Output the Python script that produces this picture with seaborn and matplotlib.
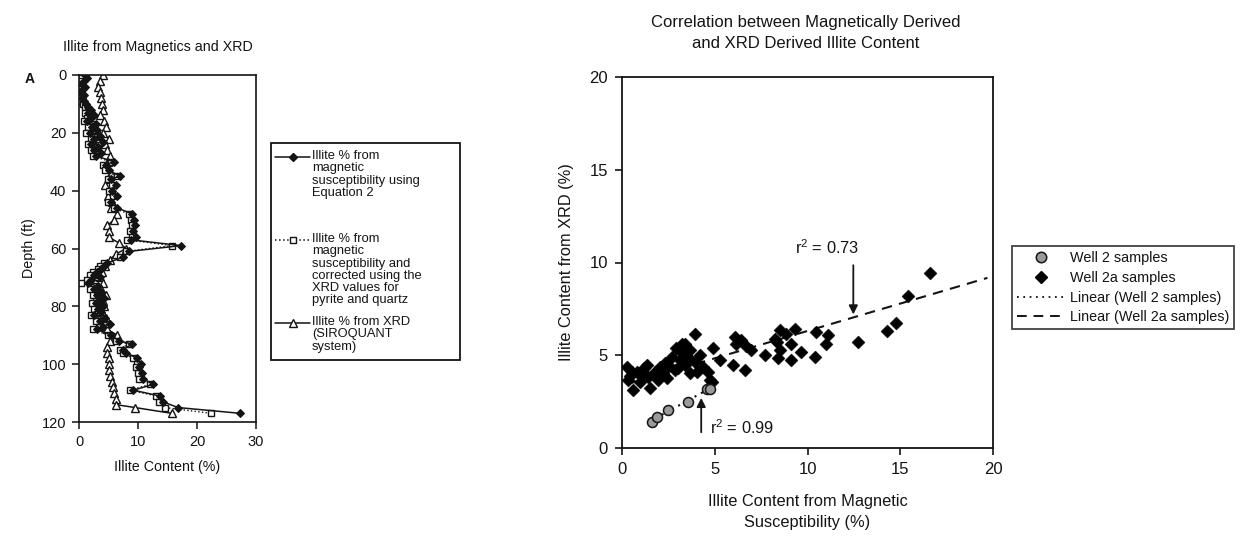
import numpy as np
import pandas as pd
import matplotlib
matplotlib.use("Agg")
import matplotlib.pyplot as plt
import seaborn as sns
from matplotlib.lines import Line2D
from matplotlib.patches import Rectangle

# ---------------- data: left panel (depth profiles) ----------------
depth_mag = [0, 1, 2, 3, 4, 5, 6, 7, 8, 9, 10, 11, 12, 13, 14, 15, 16, 17, 18, 19, 20,
             21, 22, 23, 24, 25, 26, 27, 28, 30, 31, 33, 35, 36, 38, 40, 42, 44, 46, 48,
             50, 52, 54, 56, 57, 59, 61, 63, 65, 66, 67, 68, 69, 70, 71, 72, 73, 74, 75,
             76, 77, 78, 79, 80, 81, 82, 83, 84, 85, 86, 87, 88, 90, 92, 93, 95, 96, 98,
             100, 101, 103, 105, 107, 109, 111, 113, 115, 117]
illite_eq2 = [1.0, 1.4, 0.8, 0.5, 1.1, 0.6, 0.4, 0.9, 0.5, 0.8, 1.2, 1.6, 2.0, 1.5, 2.5, 2.0,
              1.4, 2.8, 2.2, 3.0, 1.8, 3.5, 2.6, 4.0, 2.1, 3.2, 2.6, 3.8, 2.8, 6.0, 4.5, 5.0,
              7.0, 5.5, 6.2, 5.6, 6.4, 5.5, 6.5, 9.0, 9.3, 9.5, 9.2, 9.6, 8.8, 17.3, 8.5, 7.5,
              4.8, 4.2, 3.8, 3.0, 2.5, 3.5, 2.0, 1.5, 3.2, 2.5, 3.8, 3.0, 4.2, 3.5, 2.8, 4.0,
              3.2, 3.8, 2.6, 4.4, 3.5, 5.2, 4.0, 3.0, 5.5, 6.8, 9.0, 7.5, 8.0, 9.8, 10.5, 10.2,
              10.6, 10.8, 12.6, 9.2, 13.7, 14.2, 16.8, 27.3]
illite_corr = [0.6, 0.3, 0.2, 0.0, 0.5, 0.1, 0.0, 0.4, 0.1, 0.3, 0.7, 1.1, 1.5, 1.0, 2.0, 1.4,
               0.9, 2.3, 1.6, 2.5, 1.2, 3.0, 2.0, 3.4, 1.5, 2.7, 2.0, 3.2, 2.3, 5.4, 4.0, 4.4,
               6.4, 4.9, 5.6, 5.0, 5.8, 4.9, 5.9, 8.4, 8.8, 8.9, 8.6, 9.0, 8.2, 15.8, 8.0, 6.9,
               4.2, 3.6, 3.2, 2.4, 1.9, 2.9, 1.4, 0.3, 2.6, 1.9, 3.2, 2.4, 3.6, 2.9, 2.2, 3.4,
               2.6, 3.2, 2.0, 3.8, 2.9, 4.6, 3.4, 2.4, 4.9, 6.2, 8.4, 6.9, 7.4, 9.2, 9.9, 9.6,
               10.0, 10.2, 12.0, 8.6, 13.1, 13.6, 14.5, 22.4]
depth_xrd = [0, 2, 4, 6, 8, 10, 12, 14, 16, 18, 20, 22, 24, 26, 28, 30, 32, 34, 36, 38, 40,
             42, 44, 46, 48, 50, 52, 54, 56, 58, 60, 62, 64, 66, 68, 70, 72, 74, 76, 78, 80,
             82, 84, 86, 88, 90, 92, 94, 96, 98, 100, 102, 104, 106, 108, 110, 112, 114, 115, 117]
illite_xrd = [4.1, 3.6, 3.2, 3.5, 3.8, 3.9, 4.0, 3.6, 4.3, 4.6, 4.0, 5.0, 4.4, 4.8, 5.3, 4.9,
              4.6, 5.4, 5.0, 4.4, 5.2, 4.9, 5.6, 5.4, 6.4, 6.0, 4.8, 5.1, 5.0, 6.7, 8.0, 6.2,
              5.2, 4.4, 3.9, 3.6, 4.1, 3.8, 4.5, 4.0, 4.3, 3.9, 4.6, 4.2, 4.8, 6.5, 5.2, 4.7,
              4.8, 5.0, 5.1, 5.0, 5.3, 5.6, 5.7, 6.0, 6.2, 6.3, 9.5, 15.7]

left_labels = ["Illite % from\nmagnetic\nsusceptibility using\nEquation 2",
               "Illite % from\nmagnetic\nsusceptibility and\ncorrected using the\nXRD values for\npyrite and quartz",
               "Illite % from XRD\n(SIROQUANT\nsystem)"]

# ---------------- data: right panel (cross-plot) ----------------
well2_mag = [1.6, 1.87, 2.5, 3.57, 4.56, 4.74]
well2_xrd = [1.42, 1.69, 2.04, 2.5, 3.2, 3.16]
well2a_mag = [0.28, 0.32, 0.61, 0.79, 1.06, 1.33, 1.51, 1.78, 1.96, 2.22, 2.49, 2.67, 2.85,
              3.12, 3.21, 3.39, 3.57, 3.66, 3.93, 4.02, 4.2, 4.38, 4.65, 4.74, 3.39, 3.66,
              0.97, 0.52, 1.42, 2.4, 3.03, 2.04, 4.83, 0.45, 1.2, 2.3, 2.9, 3.14,
              3.93, 3.21, 4.92, 6.08, 6.17, 6.98, 5.99, 6.62, 5.27, 7.7, 8.23, 8.86, 9.31,
              9.13, 8.5, 8.41, 9.13, 9.67, 10.39, 10.48, 11.1, 11.02, 6.4, 6.7, 8.52, 8.34,
              12.74, 14.26, 14.76, 15.4, 16.6]
well2a_xrd = [4.38, 3.66, 3.12, 4.11, 3.93, 4.47, 3.21, 4.11, 3.66, 4.02, 4.47, 4.91, 4.2,
              4.74, 5.1, 4.47, 4.91, 4.02, 4.65, 4.11, 5.0, 4.38, 4.11, 3.66, 5.63, 5.27,
              3.57, 4.11, 3.84, 3.75, 4.29, 4.38, 3.57, 3.9, 4.3, 4.6, 5.4, 5.47,
              6.17, 5.63, 5.4, 5.99, 5.63, 5.27, 4.47, 4.2, 4.74, 5.0, 5.9, 6.17, 6.44,
              5.63, 5.27, 4.83, 4.74, 5.18, 4.91, 6.26, 6.08, 5.63, 5.8, 5.5, 6.37, 5.74,
              5.74, 6.33, 6.73, 8.2, 9.42]
well2a_fit = (0.295, 3.36)
well2a_fit_range = (0.28, 19.7)  # x extent of the Well 2a trendline
r2_labels = ["r$^{2}$ = 0.73", "r$^{2}$ = 0.99"]
right_legend = ["Well 2 samples", "Well 2a samples", "Linear (Well 2 samples)",
                "Linear (Well 2a samples)"]

# ---------------- styling ----------------
sns.set_theme(style="ticks")
plt.rcParams["font.family"] = ["Liberation Sans", "DejaVu Sans"]
plt.rcParams["mathtext.fontset"] = "custom"
plt.rcParams["mathtext.rm"] = "Liberation Sans"
plt.rcParams["mathtext.it"] = "Liberation Sans"
ink = "#141414"
plt.rcParams.update({"axes.edgecolor": ink, "xtick.color": ink, "ytick.color": ink,
                     "text.color": ink, "axes.labelcolor": ink})

W, H = 1242, 547
fig = plt.figure(figsize=(W / 100, H / 100), dpi=100, facecolor="white")

def fx(px):
    return px / W

def fy(py):
    return 1 - py / H

# ---------------- left panel ----------------
axL = fig.add_axes([fx(79), fy(422), fx(256) - fx(79), fy(75) - fy(422)])
dfx = pd.DataFrame({"v": illite_xrd, "d": depth_xrd})
dfm = pd.DataFrame({"eq2": illite_eq2, "corr": illite_corr, "d": depth_mag})
sns.lineplot(data=dfx, x="v", y="d", sort=False, estimator=None, orient="y", ax=axL,
             color=ink, lw=1.1, marker="^", markersize=5.5, markerfacecolor="white",
             markeredgecolor=ink, markeredgewidth=1.0, legend=False)
sns.lineplot(data=dfm, x="corr", y="d", sort=False, estimator=None, orient="y", ax=axL,
             color=ink, lw=1.0, linestyle=":", marker="s", markersize=4.3,
             markerfacecolor="white", markeredgecolor=ink, markeredgewidth=1.0, legend=False)
sns.lineplot(data=dfm, x="eq2", y="d", sort=False, estimator=None, orient="y", ax=axL,
             color=ink, lw=1.1, marker="D", markersize=3.6, markerfacecolor=ink,
             markeredgecolor=ink, legend=False)
axL.set_xlim(0, 30)
axL.set_ylim(120, 0)
axL.set_xticks([0, 10, 20, 30])
axL.set_yticks([0, 20, 40, 60, 80, 100, 120])
axL.tick_params(labelsize=10.5, length=5, width=1.1, pad=4)
axL.set_xlabel("Illite Content (%)", fontsize=10.3, labelpad=8)
axL.set_ylabel("Depth (ft)", fontsize=10.3, labelpad=4)
for s in axL.spines.values():
    s.set_linewidth(1.2)
axL.set_facecolor("white")

fig.text(fx(158), fy(47), "Illite from Magnetics and XRD", fontsize=10.3, ha="center",
         va="center")
fig.text(fx(30), fy(79), "A", fontsize=10, fontweight="bold", ha="center", va="center")

# manual left legend
fig.patches.append(Rectangle((fx(271), fy(360)), fx(460) - fx(271), fy(143) - fy(360),
                             transform=fig.transFigure, fill=False, edgecolor=ink, lw=1.3))
left_styles = [dict(ls="-", marker="D", ms=3.6, mfc=ink),
               dict(ls=":", marker="s", ms=4.3, mfc="white"),
               dict(ls="-", marker="^", ms=5.5, mfc="white")]
left_y = [157, 240, 323]
for lab, st, yy in zip(left_labels, left_styles, left_y):
    fig.lines.append(Line2D([fx(275), fx(310)], [fy(yy), fy(yy)], transform=fig.transFigure,
                            color=ink, lw=1.1, linestyle=st["ls"]))
    fig.lines.append(Line2D([fx(293)], [fy(yy)], transform=fig.transFigure, color=ink,
                            marker=st["marker"], markersize=st["ms"], markerfacecolor=st["mfc"],
                            markeredgecolor=ink, markeredgewidth=1.0, linestyle="none"))
    fig.text(fx(312), fy(yy - 7), lab, fontsize=9.3, ha="left", va="top", linespacing=1.03)

# ---------------- right panel ----------------
axR = fig.add_axes([fx(622), fy(448), fx(993) - fx(622), fy(77) - fy(448)])
df2 = pd.DataFrame({"mag": well2_mag, "xrd": well2_xrd})
df2a = pd.DataFrame({"mag": well2a_mag, "xrd": well2a_xrd})

xs2a = np.array(well2a_fit_range)
axR.plot(xs2a, well2a_fit[0] * xs2a + well2a_fit[1], color=ink, lw=1.5,
         linestyle=(0, (5, 3.5)), zorder=2)
c2 = np.polyfit(well2_mag, well2_xrd, 1)
xs2 = np.array([min(well2_mag), max(well2_mag)])
axR.plot(xs2, np.polyval(c2, xs2), color=ink, lw=1.5, linestyle=(0, (3, 2.5, 1, 2.5)),
         zorder=2)

sns.scatterplot(data=df2a, x="mag", y="xrd", marker="D", s=44, color="black",
                edgecolor="black", linewidth=0.3, ax=axR, zorder=3, legend=False)
sns.scatterplot(data=df2, x="mag", y="xrd", marker="o", s=52, color="#9a9a9a",
                edgecolor=ink, linewidth=1.1, ax=axR, zorder=4, legend=False)

axR.set_xlim(0, 20)
axR.set_ylim(0, 20)
axR.set_xticks([0, 5, 10, 15, 20])
axR.set_yticks([0, 5, 10, 15, 20])
axR.tick_params(labelsize=12, length=5, width=1.2, pad=5)
axR.set_xlabel("Illite Content from Magnetic\nSusceptibility (%)", fontsize=11.8,
               labelpad=12, linespacing=1.55)
axR.set_ylabel("Illite Content from XRD (%)", fontsize=11.8, labelpad=11)
for s in axR.spines.values():
    s.set_linewidth(1.3)

# annotations
axR.annotate("", xy=(12.47, 7.05), xytext=(12.47, 10.0),
             arrowprops=dict(arrowstyle="-|>", color=ink, lw=1.3, mutation_scale=13))
axR.text(9.3, 10.3, r2_labels[0], fontsize=11.8, ha="left", va="bottom")
axR.annotate("", xy=(4.27, 2.85), xytext=(4.27, 0.7),
             arrowprops=dict(arrowstyle="-|>", color=ink, lw=1.3, mutation_scale=13))
axR.text(4.75, 0.6, r2_labels[1], fontsize=11.8, ha="left", va="bottom")

fig.text(fx(806), fy(23), "Correlation between Magnetically Derived", fontsize=12,
         ha="center", va="center")
fig.text(fx(806), fy(43), "and XRD Derived Illite Content", fontsize=12,
         ha="center", va="center")

# right legend
handles = [Line2D([], [], marker="o", linestyle="none", markersize=7.5, markerfacecolor="#9a9a9a",
                  markeredgecolor=ink, markeredgewidth=1.1),
           Line2D([], [], marker="D", linestyle="none", markersize=6, markerfacecolor="black",
                  markeredgecolor="black"),
           Line2D([], [], color=ink, lw=1.3, linestyle=(0, (1, 2.5))),
           Line2D([], [], color=ink, lw=1.4, linestyle=(0, (5, 3.5)))]
leg = fig.legend(handles, right_legend, loc="upper left",
                 bbox_to_anchor=(fx(1012), fy(246)), fontsize=10.4, frameon=True,
                 fancybox=False, edgecolor=ink, handlelength=3.3, handletextpad=0.35,
                 labelspacing=0.4, borderpad=0.35, borderaxespad=0)
leg.get_frame().set_linewidth(1.3)

fig.savefig("out.png", dpi=100, facecolor="white")
